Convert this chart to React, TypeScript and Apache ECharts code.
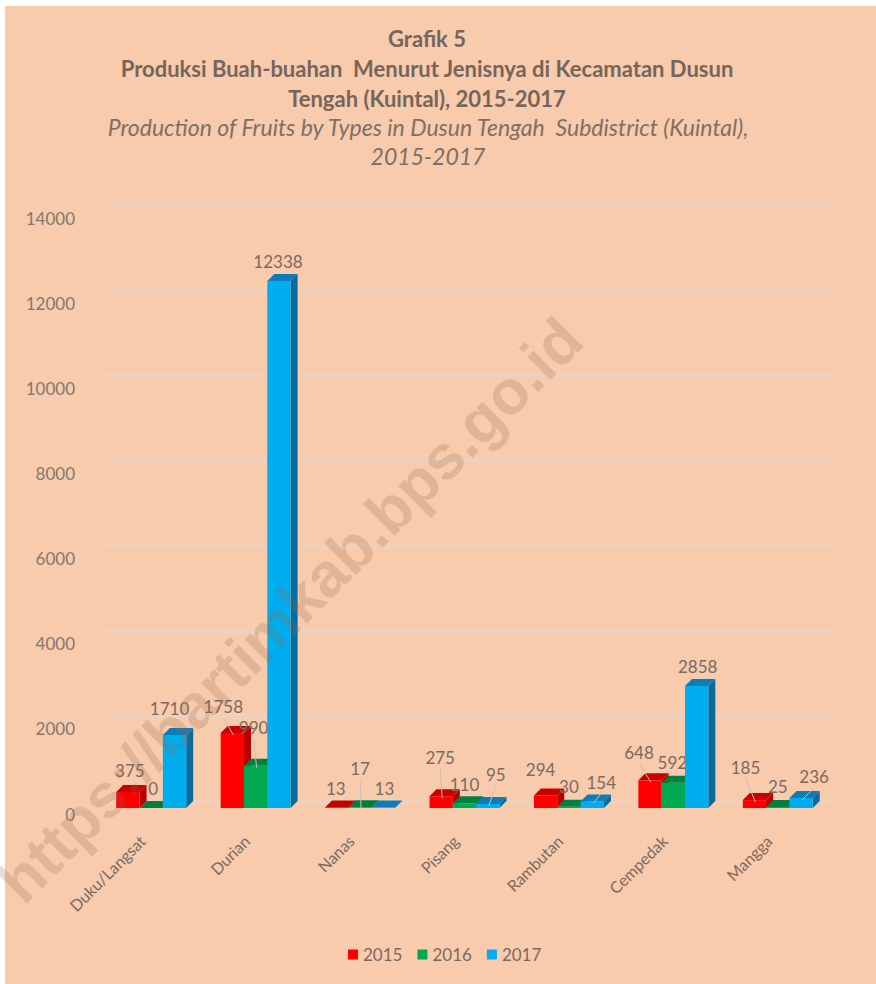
import React, { useEffect, useRef } from "react";
import * as echarts from "echarts";

const categories = ["Duku/Langsat", "Durian", "Nanas", "Pisang", "Rambutan", "Cempedak", "Mangga"];
const years = ["2015", "2016", "2017"];
const values2015 = [375, 1758, 13, 275, 294, 648, 185];
const values2016 = [0, 990, 17, 110, 30, 592, 25];
const values2017 = [1710, 12338, 13, 95, 154, 2858, 236];
const allValues = [values2015, values2016, values2017];

// label offsets from the top of each bar's front face (style only)
const labelOffsets: number[][][] = [
  [[2, -21], [-9, -26], [-1, -19], [-1, -39], [-5, -26], [-11, -28], [-9, -33]],
  [[2, -20], [-2, -38], [0, -39], [0, -19], [0, -20], [-1, -20], [0, -20]],
  [[-5, -26], [-1, -19], [1, -19], [8, -29], [9, -19], [1, -19], [13, -21]],
];
const faceColors = ["#FF0000", "#00A94F", "#00ADEF"];
const sideColors = ["#B80000", "#00703A", "#0A6C9E"];
const topColors = ["#C80000", "#007F40", "#0C7DB8"];
const textColor = "#7A6A62";
const DEPTH = 7;
const FONT = "Lato, 'Open Sans', sans-serif";

function renderBar(params: any, api: any) {
  const s = params.seriesIndex;
  const idx = api.value(0);
  const val = api.value(1);
  const band = api.size([1, 0])[0];
  const w = (band * 0.67) / 3;
  const c = api.coord([idx, val]);
  const base = api.coord([idx, 0]);
  const cx = c[0] + (s - 1) * w;
  const x0 = cx - w / 2;
  const x1 = cx + w / 2;
  const yT = c[1];
  const yB = base[1];
  const [dx, dy] = labelOffsets[s][params.dataIndex];
  const lx = cx + dx;
  const ly = yT + dy;
  const children: any[] = [
    { type: "polygon", shape: { points: [[x1, yT], [x1 + DEPTH, yT - DEPTH], [x1 + DEPTH, yB - DEPTH], [x1, yB]] }, style: { fill: sideColors[s] } },
    { type: "polygon", shape: { points: [[x0, yT], [x0 + DEPTH, yT - DEPTH], [x1 + DEPTH, yT - DEPTH], [x1, yT]] }, style: { fill: topColors[s] } },
    { type: "rect", shape: { x: x0, y: yT, width: w, height: Math.max(yB - yT, 0) }, style: { fill: faceColors[s] } },
  ];
  if ((dy <= -28 || Math.abs(dx) >= 8) && val < 2000) {
    children.push({
      type: "line",
      shape: { x1: lx, y1: ly + 11, x2: cx + 1, y2: yT + 2 },
      style: { stroke: "#CDBFB6", lineWidth: 1 },
    });
  }
  children.push({
    type: "text",
    style: {
      x: lx,
      y: ly,
      text: String(val),
      fill: textColor,
      font: `17px ${FONT}`,
      align: "center",
      verticalAlign: "middle",
    },
  });
  return { type: "group", children };
}

export default function App() {
  const ref = useRef<HTMLDivElement>(null);
  useEffect(() => {
    document.body.style.margin = "0";
    const chart = echarts.init(ref.current!, null, { renderer: "svg" });
    chart.setOption({
      animation: false,
      backgroundColor: "#FFFFFF",
      title: [
        {
          text: "Grafik 5\nProduksi Buah-buahan  Menurut Jenisnya di Kecamatan Dusun\nTengah (Kuintal), 2015-2017",
          left: 427,
          top: 23,
          textAlign: "center",
          padding: 0,
          textStyle: { fontFamily: FONT, fontSize: 22, fontWeight: "bold", color: "#76655C", lineHeight: 30, align: "center" },
        },
        {
          text: "Production of Fruits by Types in Dusun Tengah  Subdistrict (Kuintal),\n2015-2017",
          left: 428,
          top: 112,
          textAlign: "center",
          padding: 0,
          textStyle: { fontFamily: FONT, fontSize: 23, fontStyle: "italic", fontWeight: "normal", color: "#7F6F66", lineHeight: 29, align: "center" },
        },
      ],
      legend: {
        data: years,
        left: 348,
        top: 946,
        itemWidth: 10,
        itemHeight: 10,
        itemGap: 15,
        icon: "rect",
        padding: 0,
        textStyle: { fontFamily: FONT, fontSize: 17, color: textColor },
      },
      grid: [
        { left: 99, top: 210, width: 731, height: 598 },
        { left: 103, top: 204, width: 735, height: 597 },
        { left: 90, top: 218, width: 731, height: 596 },
      ],
      xAxis: [
        {
          type: "category",
          gridIndex: 0,
          data: categories,
          axisLine: { show: false },
          axisTick: { show: false },
          axisLabel: { show: false },
        },
        { type: "category", gridIndex: 1, data: categories, show: false },
        {
          type: "category",
          gridIndex: 2,
          data: categories,
          axisLine: { show: false },
          axisTick: { show: false },
          axisLabel: { rotate: 45, interval: 0, margin: 24, fontFamily: FONT, fontSize: 16, color: textColor },
        },
      ],
      yAxis: [
        {
          type: "value",
          gridIndex: 0,
          min: 0,
          max: 14000,
          interval: 2000,
          axisLine: { show: false },
          axisTick: { show: false },
          splitLine: { show: false },
          axisLabel: { show: false },
        },
        {
          type: "value",
          gridIndex: 1,
          min: 0,
          max: 14000,
          interval: 2000,
          axisLine: { show: false },
          axisTick: { show: false },
          axisLabel: { show: false },
          splitLine: { show: true, lineStyle: { color: "#F2CFB8", width: 6 } },
        },
        {
          type: "value",
          gridIndex: 2,
          min: 0,
          max: 14000,
          interval: 2000,
          axisLine: { show: false },
          axisTick: { show: false },
          splitLine: { show: false },
          axisLabel: { margin: 15, fontFamily: FONT, fontSize: 17, color: "#85776F", formatter: (v: number) => String(v) },
        },
      ],
      graphic: [
        { type: "rect", z: -10, shape: { x: 5, y: 6, width: 871, height: 978 }, style: { fill: "#F7CBAC" } },
        {
          type: "text",
          z: 50,
          x: 290,
          y: 610,
          rotation: Math.PI / 4,
          style: {
            text: "https://bartimkab.bps.go.id",
            font: "bold 62px 'Liberation Sans', sans-serif",
            fill: "rgba(150,98,72,0.22)",
            align: "center",
            verticalAlign: "middle",
          },
        },
      ],
      series: years.map((y, s) => ({
        name: y,
        type: "custom",
        xAxisIndex: 0,
        yAxisIndex: 0,
        coordinateSystem: "cartesian2d",
        clip: false,
        itemStyle: { color: faceColors[s] },
        encode: { x: 0, y: 1 },
        data: allValues[s].map((v, i) => [i, v]),
        renderItem: renderBar,
      })),
    });
    return () => chart.dispose();
  }, []);
  return <div ref={ref} style={{ width: 876, height: 984, position: "absolute", left: 0, top: 0 }} />;
}
